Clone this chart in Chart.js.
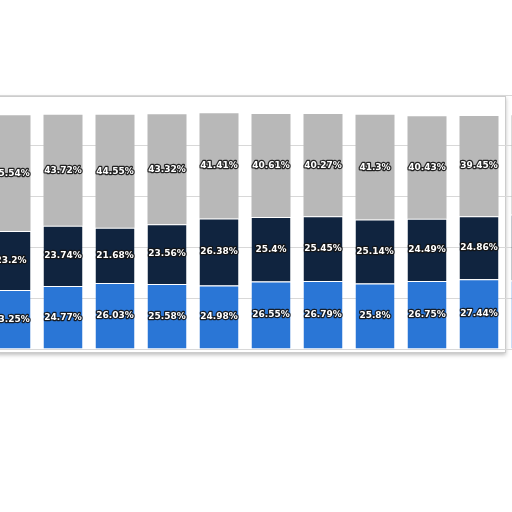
<!DOCTYPE html>
<html><head><meta charset="utf-8">
<script src="https://cdn.jsdelivr.net/npm/chart.js@4"></script>
<style>
html,body{margin:0;padding:0;background:#fff;width:512px;height:512px;overflow:hidden;position:relative}
#frame{position:absolute;left:-4px;top:96px;width:508px;height:255px;border:1px solid #ccc;box-shadow:0 2px 4px rgba(0,0,0,0.25);background:#fff}
#wrap{position:absolute;left:-15px;top:80px;width:624px;height:300px}
</style></head><body>
<div id="frame"></div>
<div id="wrap"><canvas id="c"></canvas></div>
<script>
const categories = ["1","2","3","4","5","6","7","8","9","10","11","12"];
const bottomSeries = [23.25,24.77,26.03,25.58,24.98,26.55,26.79,25.8,26.75,27.44,27.0,26.5];
const middleSeries = [23.2,23.74,21.68,23.56,26.38,25.4,25.45,25.14,24.49,24.86,26.0,25.5];
const topSeries = [45.54,43.72,44.55,43.32,41.41,40.61,40.27,41.3,40.43,39.45,39.0,40.0];
const restSeries = categories.map((c,i)=>+(100-bottomSeries[i]-middleSeries[i]-topSeries[i]).toFixed(2));

const labelPlugin = {
  id:'lbl',
  afterDatasetsDraw(chart){
    const ctx = chart.ctx;
    ctx.save();
    ctx.font = 'bold 9px "DejaVu Sans", sans-serif';
    ctx.textAlign='center'; ctx.textBaseline='middle';
    ctx.lineWidth=2.5; ctx.lineJoin='round';
    ctx.strokeStyle='rgba(20,20,20,0.9)'; ctx.fillStyle='#fff';
    for(let d=0; d<3; d++){
      const meta = chart.getDatasetMeta(d);
      meta.data.forEach((bar,i)=>{
        const v = chart.data.datasets[d].data[i];
        const y = (bar.y+bar.base)/2;
        const t = v+'%';
        ctx.strokeText(t,bar.x,y); ctx.fillText(t,bar.x,y);
      });
    }
    ctx.restore();
  }
};

new Chart(document.getElementById('c'),{
  type:'bar',
  data:{labels:categories,datasets:[
    {data:bottomSeries,backgroundColor:'#2a76d6',borderColor:'#fff',borderWidth:{top:1},borderSkipped:false},
    {data:middleSeries,backgroundColor:'#10243f',borderColor:'#fff',borderWidth:{top:1},borderSkipped:false},
    {data:topSeries,backgroundColor:'#b8b8b8'},
    {data:restSeries,backgroundColor:'rgba(255,255,255,0)'}
  ]},
  options:{
    responsive:true,maintainAspectRatio:false,animation:false,
    layout:{padding:{top:15,bottom:31,left:0,right:0}},
    plugins:{legend:{display:false},tooltip:{enabled:false}},
    datasets:{bar:{categoryPercentage:1,barPercentage:0.75}},
    scales:{
      x:{stacked:true,display:false},
      y:{stacked:true,min:0,max:100,display:true,
         ticks:{display:false,stepSize:20},
         border:{display:false},
         grid:{color:'#d8d8d8',drawTicks:false}}
    }
  },
  plugins:[labelPlugin]
});
</script>
</body></html>
